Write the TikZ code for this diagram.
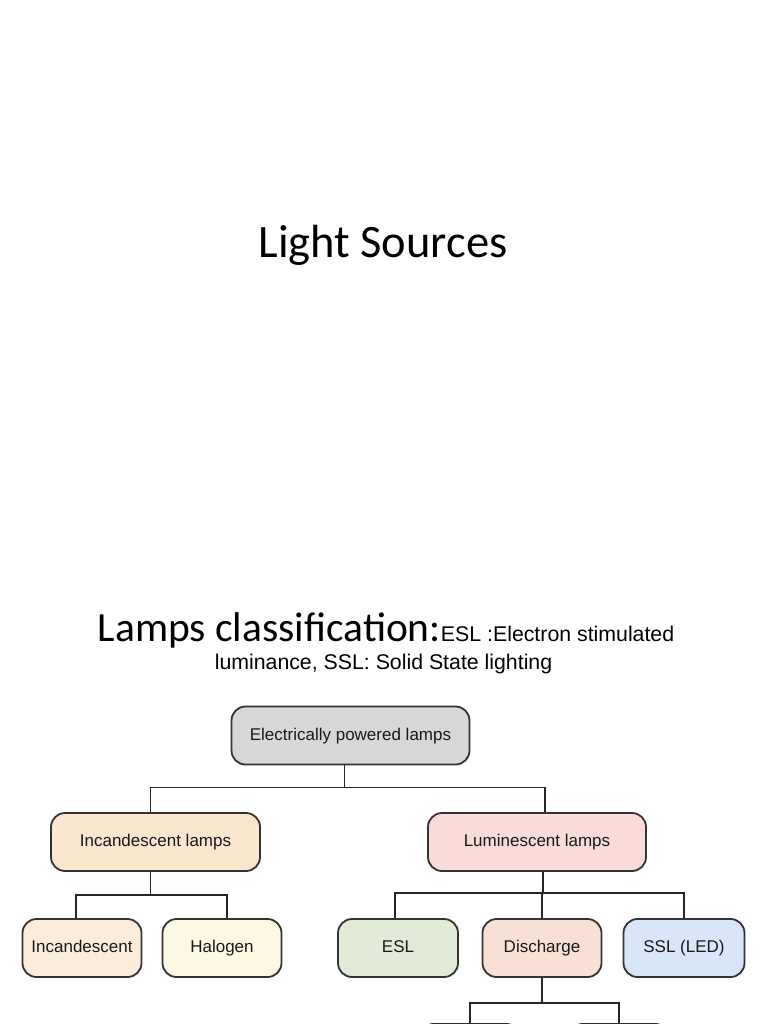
\documentclass[tikz,border=0pt]{standalone}
\usepackage{fontspec}
\usepackage{tikz}
\usetikzlibrary{positioning}

\setmainfont{Liberation Sans}
\newfontfamily\slidefont{Carlito}
\newfontfamily\lampfont{Liberation Sans}

\definecolor{boxline}{HTML}{333333}
\definecolor{fillroot}{HTML}{D7D7D7}
\definecolor{fillinclamps}{HTML}{FBE6D0}
\definecolor{filllumlamps}{HTML}{F9DCD8}
\definecolor{fillincan}{HTML}{FCEDDA}
\definecolor{fillhalogen}{HTML}{FDF8E2}
\definecolor{fillesl}{HTML}{E1EBD7}
\definecolor{filldischarge}{HTML}{F9E0D5}
\definecolor{fillssl}{HTML}{D9E5F8}

\tikzset{
	lampbox/.style={draw=boxline, line width=1.8pt, rounded corners=14pt,
		minimum height=58pt, inner sep=0pt, text=black!90,
		text height=12.5pt, text depth=3.5pt,
		font=\lampfont\fontsize{17}{20}\selectfont},
	branch/.style={draw=black!85, line width=1.8pt}
}

\begin{document}
\begin{tikzpicture}[x=1pt,y=-1pt]
\useasboundingbox (0,0) rectangle (768,1024);
\clip (0,0) rectangle (768,1024);

% titles
\node[anchor=base, inner sep=0pt, font=\slidefont\fontsize{46.5}{56}\selectfont] (title) at (383,257) {Light Sources};
\node[anchor=base, inner sep=0pt] (cls1) at (386,641)
	{{\slidefont\fontsize{41.5}{50}\selectfont Lamps classification:}{\fontsize{21.3}{25}\selectfont ESL :Electron stimulated}};
\node[anchor=base, inner sep=0pt, font=\fontsize{21.3}{25}\selectfont] (cls2) at (383.5,669) {luminance, SSL: Solid State lighting};

% boxes
\node[lampbox, fill=fillroot, minimum width=238pt] (root) at (350.5,735.5) {Electrically powered lamps};

\node[lampbox, fill=fillinclamps, minimum width=209pt] (inclamps) at (155.5,842) {Incandescent lamps};
\node[lampbox, fill=filllumlamps, minimum width=218pt] (lumlamps) at (537,842) {Luminescent lamps};

\node[lampbox, fill=fillincan, minimum width=119pt] (incan) at (82,948) {Incandescent};
\node[lampbox, fill=fillhalogen, minimum width=119pt] (halogen) at (222,948) {Halogen};
\node[lampbox, fill=fillesl, minimum width=120pt] (esl) at (398,948) {ESL};
\node[lampbox, fill=filldischarge, minimum width=119pt] (discharge) at (542,948) {Discharge};
\node[lampbox, fill=fillssl, minimum width=121pt] (ssl) at (684,948) {SSL (LED)};

% the two boxes cut by the lower edge
\node[lampbox, fill=white, minimum width=100pt, anchor=north] (dischA) at (470,1023) {};
\node[lampbox, fill=white, minimum width=100pt, anchor=north] (dischB) at (619,1023) {};

% connectors
\foreach \kid/\dx in {inclamps/-5,lumlamps/8}
	\draw[branch] ([xshift=-6pt]root.south) -- +(0,22) -| ([xshift=\dx pt]\kid.north);
\foreach \kid/\dx in {incan/-6,halogen/5}
	\draw[branch] ([xshift=-5pt]inclamps.south) -- +(0,23) -| ([xshift=\dx pt]\kid.north);
\foreach \kid/\dx in {esl/-3,discharge/0,ssl/0}
	\draw[branch] ([xshift=6pt]lumlamps.south) -- +(0,21) -| ([xshift=\dx pt]\kid.north);
\foreach \kid in {dischA,dischB}
	\draw[branch] (discharge.south) -- +(0,25) -| (\kid.north);
\end{tikzpicture}
\end{document}
